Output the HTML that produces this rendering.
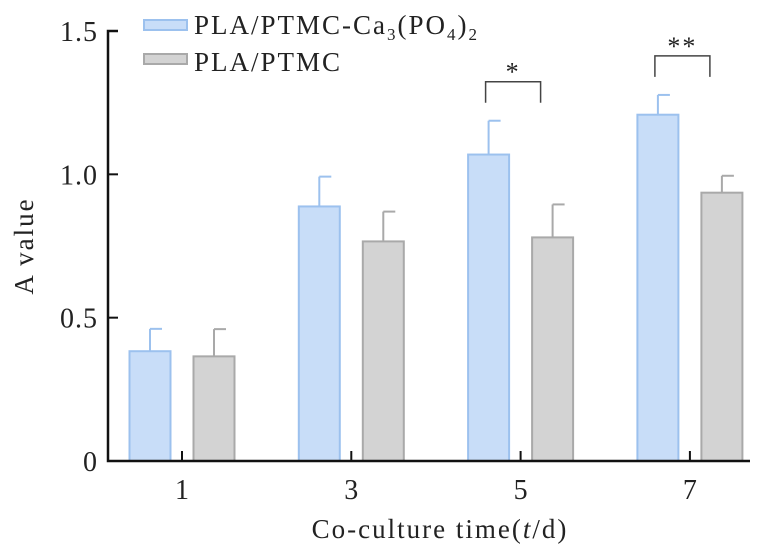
<!DOCTYPE html>
<html><head><meta charset="utf-8"><style>
body{margin:0;background:#fff}
svg{display:block;font-family:"Liberation Serif","Noto Serif CJK SC",serif}
</style></head><body>
<svg id="chart" width="768" height="558" viewBox="0 0 768 558"></svg>
<script>
const categories=["1","3","5","7"];
const seriesBlue=[0.383,0.888,1.069,1.208];
const errBlue=[0.078,0.104,0.118,0.069];
const seriesGray=[0.365,0.766,0.780,0.936];
const errGray=[0.095,0.104,0.115,0.059];
const yTicks=[0,0.5,1.0,1.5];
const yTickLabels=["0","0.5","1.0","1.5"];
const sigMarks=[{cat:2,label:"*"},{cat:3,label:"**"}];

const NS="http://www.w3.org/2000/svg";
const svg=document.getElementById('chart');
const x0=108,y0=461,yTop=31,yMax=1.5;
function yS(v){return y0-(v/yMax)*(y0-yTop);}
function xC(i){return 182+i*169.3;}
function mk(tag,attrs,text){const e=document.createElementNS(NS,tag);for(const k in attrs)e.setAttribute(k,attrs[k]);if(text!==undefined)e.textContent=text;svg.appendChild(e);return e;}

function bar(i,v,err,off,fill,stroke,name){
  const cx=xC(i)+off,w=41;
  const top=yS(v),eTop=yS(v+err);
  const l=mk('line',{x1:cx,x2:cx,y1:top,y2:eTop,stroke:stroke,'stroke-width':2});
  
  
  const c=mk('line',{x1:cx,x2:cx+12,y1:eTop,y2:eTop,stroke:stroke,'stroke-width':2});
  
  
  const r=mk('rect',{x:cx-w/2,y:top,width:w,height:y0-top,fill:fill,stroke:stroke,'stroke-width':2});
  
  
}
categories.forEach((c,i)=>{
  bar(i,seriesBlue[i],errBlue[i],-32,'#c8ddf8','#9cc1ee','bar-ca3po4-day'+c);
  bar(i,seriesGray[i],errGray[i],32,'#d3d3d3','#a9a9a9','bar-pla-ptmc-day'+c);
  const t=mk('line',{x1:xC(i),x2:xC(i),y1:y0,y2:y0-10,stroke:'#111','stroke-width':2});
  
  
  const tl=mk('text',{x:xC(i),y:y0+38,'font-size':28,'text-anchor':'middle',fill:'#222'},c);
  
  
});
const ax=mk('path',{d:`M${x0+10} ${yTop} H${x0} V${y0} H750`,fill:'none',stroke:'#111','stroke-width':2.5});


yTicks.forEach((v,i)=>{
  const y=yS(v);
  if(i>0&&i<yTicks.length-1){const t=mk('line',{x1:x0,x2:x0+10,y1:y,y2:y,stroke:'#111','stroke-width':2});
  
  }
  const tl=mk('text',{x:98,y:y+10,'font-size':28,'letter-spacing':1,'text-anchor':'end',fill:'#222'},yTickLabels[i]);
  
  
});
sigMarks.forEach(s=>{
  const xa=xC(s.cat)-35,xb=xC(s.cat)+20;
  const top=yS(seriesBlue[s.cat]+errBlue[s.cat]);
  const y=top-39;
  const p=mk('path',{d:`M${xa} ${y+21} V${y} H${xb} V${y+21}`,fill:'none',stroke:'#444','stroke-width':1.5});
  
  
  const t=mk('text',{x:(xa+xb)/2,y:y-1,'font-size':26,'letter-spacing':2,'text-anchor':'middle',fill:'#222'},s.label);
  
  
});
const yt=mk('text',{x:0,y:0,'font-size':27,'letter-spacing':2,'text-anchor':'middle',fill:'#222',transform:'translate(33,246) rotate(-90)'},'A value');


const xt=mk('text',{x:440,y:538,'font-size':27,'letter-spacing':2,'text-anchor':'middle',fill:'#222'});


xt.innerHTML='Co-culture time(<tspan font-style="italic">t</tspan>/d)';
const l1=mk('rect',{x:144,y:20,width:43,height:10,fill:'#c8ddf8',stroke:'#9cc1ee','stroke-width':2});


const lt1=mk('text',{x:194,y:34,'font-size':27,'letter-spacing':2,fill:'#222'});


lt1.innerHTML='PLA/PTMC-Ca<tspan font-size="17" dy="6">3</tspan><tspan dy="-6">(PO</tspan><tspan font-size="17" dy="6">4</tspan><tspan dy="-6">)</tspan><tspan font-size="17" dy="6">2</tspan>';
const l2=mk('rect',{x:144,y:54,width:43,height:10,fill:'#d3d3d3',stroke:'#a9a9a9','stroke-width':2});


const lt2=mk('text',{x:194,y:71,'font-size':27,'letter-spacing':2,fill:'#222'},'PLA/PTMC');


</script>
</body></html>
